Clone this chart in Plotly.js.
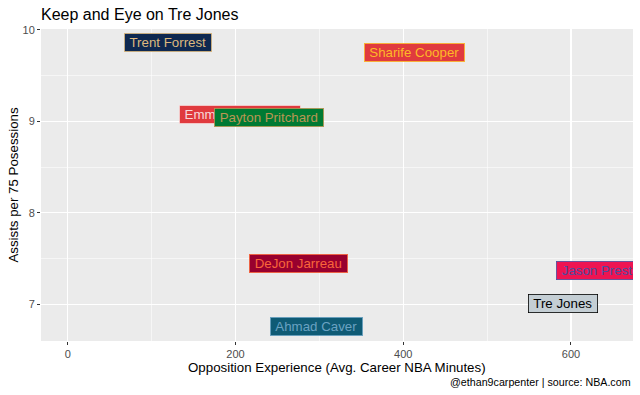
<!DOCTYPE html>
<html><head><meta charset="utf-8">
<script src="https://cdn.plot.ly/plotly-3.0.1.min.js"></script>
<style>html,body{margin:0;padding:0;background:#fff}#chart{width:640px;height:395px}</style>
</head><body><div id="chart"></div>
<script>
// Data
const players    = ["Trent Forrest", "Sharife Cooper", "Emmanuel Mudiay", "Payton Pritchard", "DeJon Jarreau", "Ahmad Caver", "Tre Jones", "Jason Preston"];
const minutes    = [120, 414, 205, 240, 275, 296, 590, 640];
const assists    = [9.86, 9.75, 9.08, 9.04, 7.45, 6.76, 7.01, 7.37];
const fillColors = ["#0E2850", "#E03A3E", "#E03A3E", "#007A33", "#98002E", "#0F5B75", "#C4CED4", "#EE1452"];
const textColors = ["#DDB97E", "#FDB927", "#F7D9D9", "#BA9653", "#F9663A", "#6AA2C2", "#000000", "#4B4DA0"];
const xTicks = [0, 200, 400, 600];
const yTicks = [7, 8, 9, 10];

const LABEL_FONT = "Liberation Sans, Arial, sans-serif";
const LABEL_SIZE = 13.3;
const cv = document.createElement("canvas").getContext("2d");
cv.font = LABEL_SIZE + "px 'Liberation Sans'";

const annotations = players.map((p, i) => ({
  x: minutes[i], y: assists[i], xref: "x", yref: "y",
  text: p, showarrow: false,
  font: {family: LABEL_FONT, size: LABEL_SIZE, color: textColors[i]},
  bgcolor: fillColors[i], bordercolor: textColors[i], borderwidth: 0.8, borderpad: 1,
  width: Math.ceil(cv.measureText(p).width) + 7, height: 15,
  xanchor: "center", yanchor: "middle"
}));

// mask the part of the last label that runs past the panel (ggplot clips it)
annotations.push({
  xref: "paper", yref: "y", x: 1, y: assists[players.indexOf("Jason Preston")],
  xanchor: "left", yanchor: "middle", text: " ", showarrow: false,
  bgcolor: "#ffffff", borderwidth: 0, borderpad: 0, width: 30, height: 26
});

// x-axis title (placed like ggplot's)
annotations.push({
  xref: "paper", yref: "paper", x: 0.5, y: -0.084, xanchor: "center", yanchor: "middle",
  text: "Opposition Experience (Avg. Career NBA Minutes)", showarrow: false,
  font: {family: LABEL_FONT, size: 13.3, color: "#000000"}
});

// caption
annotations.push({
  xref: "paper", yref: "paper", x: 1, y: -0.133, xanchor: "right", yanchor: "middle",
  text: "@ethan9carpenter | source: NBA.com", showarrow: false,
  font: {family: LABEL_FONT, size: 10.7, color: "#000000"}
});

const trace = {x: minutes, y: assists, type: "scatter", mode: "markers",
  marker: {size: 1, opacity: 0}, hoverinfo: "skip", showlegend: false};

const axisCommon = {
  showgrid: true, gridcolor: "#ffffff", gridwidth: 1.1, zeroline: false,
  ticks: "outside", ticklen: 3, tickwidth: 1, tickcolor: "#333333",
  tickfont: {family: LABEL_FONT, size: 11, color: "#4D4D4D"},
  showline: false
};

const layout = {
  width: 640, height: 395,
  margin: {l: 41, r: 7, t: 29, b: 54},
  paper_bgcolor: "#ffffff", plot_bgcolor: "#EBEBEB",
  font: {family: LABEL_FONT},
  title: {text: "Keep and Eye on Tre Jones", x: 41/640, xanchor: "left", xref: "container",
          y: 1 - 14/395, yanchor: "middle", yref: "container",
          font: {family: LABEL_FONT, size: 16, color: "#000000"}},
  xaxis: Object.assign({}, axisCommon, {
    range: [-32, 674], tickvals: xTicks, ticktext: xTicks.map(String),
    minor: {showgrid: true, gridcolor: "#ffffff", gridwidth: 0.55, tick0: 0, dtick: 100, ticks: ""}
  }),
  yaxis: Object.assign({}, axisCommon, {
    range: [6.6, 10.01], tickvals: yTicks, ticktext: yTicks.map(String),
    minor: {showgrid: true, gridcolor: "#ffffff", gridwidth: 0.55, tick0: 7, dtick: 0.5, ticks: ""},
    title: {text: "Assists per 75 Posessions", standoff: 0,
            font: {family: LABEL_FONT, size: 13.3, color: "#000000"}}
  }),
  annotations: annotations
};

Plotly.newPlot("chart", [trace], layout, {displayModeBar: false, staticPlot: true});
</script>
</body></html>
